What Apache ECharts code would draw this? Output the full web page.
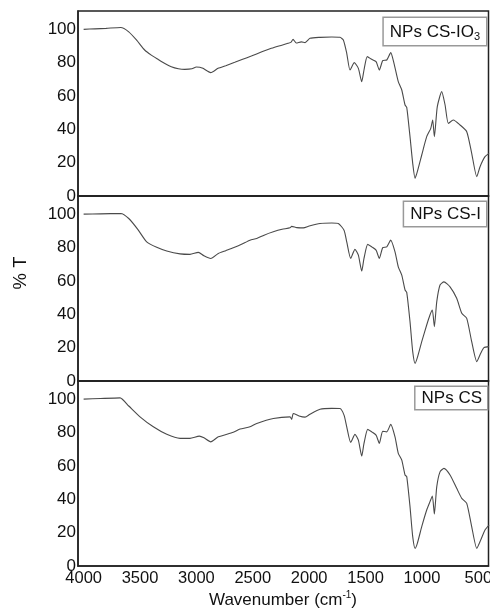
<!DOCTYPE html>
<html>
<head>
<meta charset="utf-8">
<script src="https://cdn.jsdelivr.net/npm/echarts@6/dist/echarts.min.js"></script>
<style>html,body{margin:0;padding:0;background:#fff;}#c{width:490px;height:609px;}</style>
</head>
<body>
<div id="c"></div>
<script>
// Panel labels
var panelNames = ['NPs CS-IO3', 'NPs CS-I', 'NPs CS'];
var xTicks = [4000, 3500, 3000, 2500, 2000, 1500, 1000, 500];
var yTicks = [0, 20, 40, 60, 80, 100];

// NPs CS-IO3 (top)
var wnIO3 = [4000,3900,3800,3671,3600,3530,3459,3400,3341,3280,3223,3160,3104,3040,3001,2970,2942,2873,2808,2740,2660,2590,2513,2420,2336,2260,2188,2160,2143,2114,2070,2037,1993,1904,1800,1727,1697,1667,1638,1600,1564,1534,1514,1485,1446,1407,1378,1348,1312,1277,1248,1210,1179,1150,1135,1106,1082,1061,1041,1002,958,922,905,890,864,825,795,766,722,662,603,559,514,485,441,405];
var tIO3 = [100.0,100.3,100.6,101.1,98.5,93.5,87.6,84.5,82.0,79.5,77.6,76.4,76.0,76.3,77.4,77.3,76.6,74.0,76.6,78.2,80.2,82.0,84.0,86.5,88.6,90.2,91.6,92.3,94.0,91.8,92.5,92.0,94.6,95.2,95.4,95.2,93.6,85.6,75.6,80.0,76.6,68.6,75.6,83.6,82.0,80.6,75.6,81.2,81.6,86.0,79.6,68.6,63.6,54.6,53.2,35.6,19.6,10.6,14.6,24.6,35.6,40.6,45.6,35.6,53.6,62.6,54.6,43.6,45.6,42.6,38.6,25.6,11.6,17.6,23.6,25.6];

// NPs CS-I (middle)
var wnI = [4000,3850,3671,3600,3520,3441,3352,3263,3145,3057,2983,2933,2873,2806,2740,2673,2600,2525,2465,2400,2318,2240,2170,2155,2110,2052,2000,1904,1800,1742,1691,1667,1632,1594,1564,1534,1514,1481,1446,1407,1378,1348,1312,1277,1239,1210,1179,1150,1135,1106,1082,1061,1041,1002,958,929,908,890,869,840,805,751,692,647,603,559,514,479,450,405];
var tI = [100.1,100.3,100.5,97.5,91.0,83.5,80.2,78.0,76.3,76.0,77.2,75.1,73.5,76.5,78.2,79.9,82.0,84.5,85.5,87.5,89.5,91.0,91.9,92.8,92.0,91.9,93.0,94.5,94.8,94.5,90.5,83.5,73.6,79.0,75.5,66.0,73.6,82.0,80.5,78.5,73.6,80.0,80.5,84.5,77.5,68.5,63.5,54.6,53.2,35.6,17.6,10.6,14.0,23.6,33.6,39.6,42.6,32.6,47.5,57.6,59.5,56.5,49.6,40.6,37.6,23.6,11.6,16.6,20.0,20.6];

// NPs CS (bottom)
var wnCS = [4000,3850,3677,3600,3500,3382,3263,3145,3057,2974,2933,2873,2806,2673,2613,2525,2465,2318,2170,2155,2141,2090,2037,1993,1904,1800,1727,1691,1667,1632,1594,1564,1534,1514,1481,1446,1407,1378,1348,1312,1277,1239,1210,1179,1150,1135,1106,1082,1061,1041,1002,958,929,908,890,869,840,805,751,692,647,603,559,514,479,441,405];
var tCS = [100.1,100.5,100.9,96.0,89.5,83.5,79.0,76.6,76.6,77.9,76.9,74.5,77.5,80.2,82.2,83.5,85.5,88.5,89.5,88.0,91.5,90.0,89.3,91.1,94.1,94.6,94.5,90.5,83.5,74.2,79.0,75.5,66.0,73.6,82.0,80.5,78.5,73.6,80.8,80.5,85.0,77.5,67.6,63.5,54.6,53.6,35.6,17.6,10.6,13.6,23.6,33.6,38.6,42.0,31.2,47.5,56.5,58.6,54.6,46.6,40.6,37.6,23.6,10.6,15.6,21.6,24.6];

var wns = [wnIO3, wnI, wnCS];
var ts = [tIO3, tI, tCS];

function pairs(a, b) { return a.map(function (v, i) { return [v, b[i]]; }); }

var FONT = "'Liberation Sans', Arial, sans-serif";
var tops = [11, 196, 381];
var grids = [], xAxes = [], yAxes = [], series = [];
for (var i = 0; i < 3; i++) {
  grids.push({ left: 78, top: tops[i], width: 410.5, height: 185, show: true, borderColor: '#222', borderWidth: 1.5, backgroundColor: 'transparent', containLabel: false, outerBoundsMode: 'none' });
  xAxes.push({
    gridIndex: i, type: 'value', inverse: true, min: 410, max: 4050, interval: 10,
    axisLine: { show: true, lineStyle: { color: '#222', width: 1.5 } },
    axisTick: { show: false }, splitLine: { show: false },
    axisLabel: {
      show: i === 2, margin: 4, color: '#111', fontSize: 16.5, fontFamily: FONT,
      formatter: function (v) { return xTicks.indexOf(Math.round(v)) >= 0 ? String(Math.round(v)) : ''; }
    }
  });
  yAxes.push({
    gridIndex: i, type: 'value', min: 0, max: 111, interval: 20,
    axisLine: { show: true, lineStyle: { color: '#222', width: 1.5 } },
    axisTick: { show: false }, splitLine: { show: false },
    axisLabel: {
      margin: 2, color: '#111', fontSize: 17, fontFamily: FONT,
      formatter: function (v) { return yTicks.indexOf(Math.round(v)) >= 0 ? String(Math.round(v)) : ''; }
    }
  });
  series.push({
    type: 'line', xAxisIndex: i, yAxisIndex: i, data: pairs(wns[i], ts[i]),
    showSymbol: false, smooth: 0.2, clip: true,
    lineStyle: { color: '#4a4a4a', width: 1.1 }, silent: true
  });
}

function boxLabel(name, right, top, pad) {
  var text;
  if (/IO3$/.test(name)) {
    text = '{a|' + name.slice(0, -1) + '}{s|3}';
  } else {
    text = '{a|' + name + '}';
  }
  return {
    type: 'text', x: right, y: top, silent: true,
    style: {
      text: text, align: 'right', verticalAlign: 'top',
      padding: pad, borderColor: '#999', borderWidth: 1.5, backgroundColor: '#fff',
      rich: {
        a: { fontSize: 17, fontFamily: FONT, fill: '#111', lineHeight: 20, verticalAlign: 'middle' },
        s: { fontSize: 11, fontFamily: FONT, fill: '#111', lineHeight: 20, verticalAlign: 'bottom', padding: [9, 0, 0, 0] }
      }
    }
  };
}

var chart = echarts.init(document.getElementById('c'), null, { renderer: 'canvas' });
chart.setOption({
  animation: false,
  backgroundColor: '#fff',
  grid: grids, xAxis: xAxes, yAxis: yAxes, series: series,
  graphic: [
    boxLabel(panelNames[0], 486, 18, [4, 6, 3, 6]),
    boxLabel(panelNames[1], 486, 202, [2, 5, 2, 6]),
    boxLabel(panelNames[2], 487, 387, [1, 5, 1, 6]),
    {
      type: 'text', x: 21, y: 273, rotation: Math.PI / 2, silent: true,
      style: { text: '% T', align: 'center', verticalAlign: 'middle', fontSize: 18.5, fontFamily: FONT, fill: '#111' }
    },
    {
      type: 'text', x: 283, y: 600, silent: true,
      style: {
        text: '{a|Wavenumber (cm}{s|-1}{a|)}', align: 'center', verticalAlign: 'middle',
        rich: {
          a: { fontSize: 17, fontFamily: FONT, fill: '#111', lineHeight: 20 },
          s: { fontSize: 10, fontFamily: FONT, fill: '#111', lineHeight: 20, verticalAlign: 'top', padding: [0, 0, 8, 0] }
        }
      }
    }
  ]
});
</script>
</body>
</html>
